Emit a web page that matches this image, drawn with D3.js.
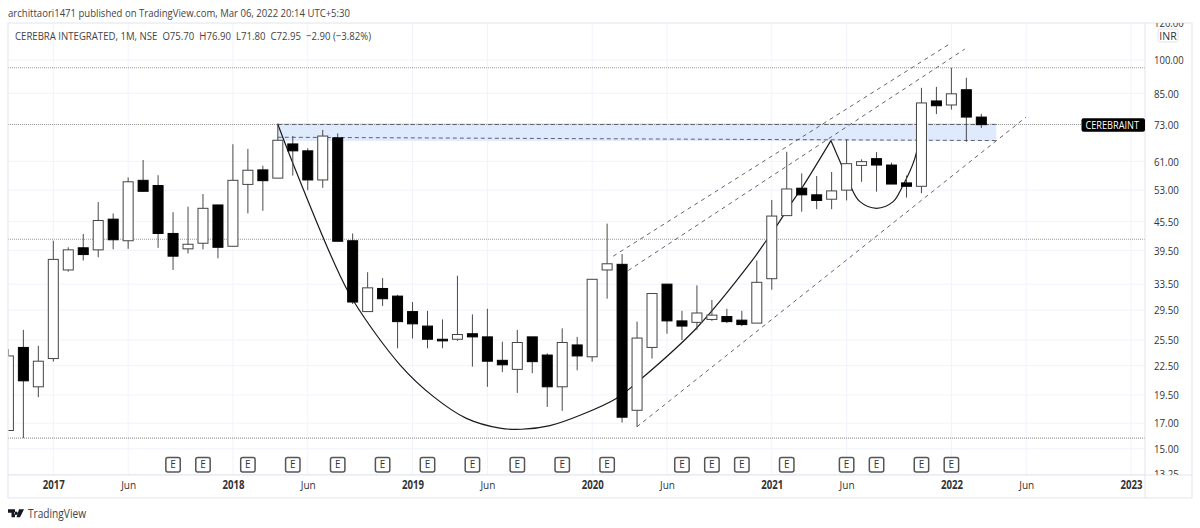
<!DOCTYPE html>
<html lang="en">
<head>
  <meta charset="utf-8">
  <title>CEREBRA INTEGRATED, 1M, NSE</title>
  <script src="https://d3js.org/d3.v7.min.js"></script>
  <style>
    html, body { margin: 0; padding: 0; background: #fff; }
    svg { display: block; }
    text { font-family: "Open Sans", sans-serif; fill: #333; }
  </style>
</head>
<body>
<svg id="chart" width="1200" height="528"></svg>
<script>
// monthly bars, first one is Oct 2016 (month 0 = Jan 2017)
var firstMonth = -3;
var opens = [16.4,24.6,20.3,23.3,35.9,40.0,39.6,46.0,41.4,55.6,54.2,42.9,39.8,40.9,49.3,40.3,54.5,58.5,56.2,66.4,64.2,55.7,68.4,41.4,29.3,32.8,31.6,29.3,27.3,25.6,25.6,26.3,25.9,23.1,22.1,25.9,23.7,20.3,24.9,23.5,35.9,36.9,18.1,24.6,33.5,28.0,27.8,28.2,28.6,28.1,27.7,34.4,46.8,53.5,51.8,50.7,53.0,59.8,61.8,59.9,54.9,54.0,81.9,80.3,86.5,75.7];
var highs = [24.4,26.8,24.8,41.4,40.1,42.8,50.0,47.3,56.4,61.4,57.0,47.6,48.9,52.0,49.3,66.3,64.8,59.7,73.4,69.0,65.0,71.1,69.9,42.9,35.5,34.5,31.8,30.7,29.4,28.2,34.9,28.9,29.7,25.3,26.8,25.9,23.9,27.0,25.9,34.3,45.0,38.8,27.9,32.0,33.5,29.4,33.3,31.0,29.7,29.4,37.6,50.5,63.9,57.5,56.8,57.9,67.9,61.6,63.8,60.6,56.9,87.3,87.7,96.3,91.7,76.9];
var lows = [16.4,15.8,19.3,22.95,35.6,37.6,38.2,39.7,39.8,52.6,40.0,35.9,38.9,39.7,38.0,40.3,47.3,47.9,56.2,56.9,53.0,53.6,41.3,30.4,29.3,30.1,24.5,25.7,24.5,24.5,25.4,22.4,20.3,21.8,19.7,21.7,18.4,18.05,22.0,22.95,31.2,17.05,16.7,23.3,26.3,25.5,26.8,28.0,27.7,27.3,27.7,32.6,46.8,47.7,48.3,48.3,50.4,55.2,52.6,54.6,51.1,52.2,76.8,78.5,67.1,71.8];
var closes = [23.6,20.9,23.0,37.8,39.6,38.7,45.7,41.6,55.2,52.7,42.9,38.4,40.7,48.5,40.1,55.6,58.4,55.5,67.6,64.2,55.7,69.0,41.3,30.7,32.9,31.2,27.9,27.6,25.6,25.4,26.2,25.9,23.0,22.6,25.2,22.95,20.3,25.2,23.6,34.3,37.0,17.5,25.75,32.0,28.0,27.3,29.1,28.8,27.9,27.5,33.8,46.7,53.3,51.8,50.4,52.8,60.3,60.9,59.9,54.6,54.0,81.1,80.0,84.8,75.7,72.95];

var priceTicks = [120,100,85,73,61,53,45.5,39.5,33.5,29.5,25.5,22.5,19.5,17,15,13.25];
var timeTicks = [0,5,12,17,24,29,36,41,48,53,60,65,72];
var timeLabels = ["2017","Jun","2018","Jun","2019","Jun","2020","Jun","2021","Jun","2022","Jun","2023"];
var yearTicks = [0,12,24,36,48,60,72];
var earnings = [8,10,13,16,19,22,25,28,31,34,37,42,44,46,49,53,55,58,60];
var dottedLevels = [96.3,73,41.7,15.8];

// drawn objects, as [month, price]
var cupCurve = [[15,73.1],[16,60.5],[18.68,37.7],[20.02,31],[23.16,22.6],[25.4,19.35],[27.6,17.4],[29.84,16.59],[31.29,16.5],[33.18,16.8],[35.4,17.78],[37.64,19.2],[39.35,21.2],[42.98,27.05],[46.72,37.7],[47.66,41.55],[48.32,44.5],[49.32,49.8],[50,53.5],[51.95,67.5]];
var peakDrop = [[51.95,67.5],[53.33,53.5]];
var handleCurve = [[53.33,53.5],[53.89,50.1],[55,48.5],[56.11,50.1],[56.67,53.5],[57.56,61.9],[58,73]];
var channelUpper = [[37.41,38.4],[59.95,108.5]];
var channelMiddle = [[38.41,35.8],[60.9,105.5]];
var channelLower = [[38.99,16.7],[64.97,75.6]];
var zoneMonths = [15,63];
var zonePrices = [73.5,67.4];
var zoneTopLine = [[15,73],[63,73]];
var zoneBottomLine = [[15,68.6],[63,67.5]];

var left = 8, right = 1145, top_ = 23, bottom = 475, outerRight = 1192, outerBottom = 498;

var x = d3.scaleLinear().domain([-3, 72]).range([8.4, 1131]);
var y = d3.scaleLog().domain([119.8, 13.2]).range([top_, bottom]);

var svg = d3.select("#chart");
var defs = svg.append("defs");
defs.append("clipPath").attr("id", "plot").append("rect")
  .attr("x", left).attr("y", top_).attr("width", right - left).attr("height", bottom - top_);
defs.append("clipPath").attr("id", "scale").append("rect")
  .attr("x", right).attr("y", top_).attr("width", outerRight - right).attr("height", bottom - top_);

var plot = svg.append("g").attr("clip-path", "url(#plot)");

// grid
plot.selectAll(".hgrid").data(priceTicks).join("line")
  .attr("x1", left).attr("x2", right)
  .attr("y1", function(d) { return y(d); }).attr("y2", function(d) { return y(d); })
  .attr("stroke", "#f0f3fa");
plot.selectAll(".vgrid").data(timeTicks).join("line")
  .attr("x1", function(d) { return x(d); }).attr("x2", function(d) { return x(d); })
  .attr("y1", top_).attr("y2", bottom)
  .attr("stroke", "#f0f3fa");

// blue zone
plot.append("rect")
  .attr("x", x(zoneMonths[0])).attr("y", y(zonePrices[0]))
  .attr("width", x(zoneMonths[1]) - x(zoneMonths[0]))
  .attr("height", y(zonePrices[1]) - y(zonePrices[0]))
  .attr("fill", "#dfeafc");

// dotted levels
plot.selectAll(".level").data(dottedLevels).join("line")
  .attr("x1", left).attr("x2", right)
  .attr("y1", function(d) { return y(d); }).attr("y2", function(d) { return y(d); })
  .attr("stroke", "#9a9a9a").attr("stroke-width", 1.2).attr("stroke-dasharray", "1 1");

var line = d3.line().x(function(d) { return x(d[0]); }).y(function(d) { return y(d[1]); });
var smooth = d3.line().x(function(d) { return x(d[0]); }).y(function(d) { return y(d[1]); }).curve(d3.curveCatmullRom);

[channelUpper, channelMiddle, channelLower].forEach(function(c) {
  plot.append("path").attr("d", line(c)).attr("fill", "none")
    .attr("stroke", "#666").attr("stroke-dasharray", "4 4");
});
[zoneTopLine, zoneBottomLine].forEach(function(c) {
  plot.append("path").attr("d", line(c)).attr("fill", "none")
    .attr("stroke", "#5a6472").attr("stroke-dasharray", "4 3");
});

plot.append("path").attr("d", smooth(cupCurve)).attr("fill", "none").attr("stroke", "#1a1a1a").attr("stroke-width", 1.2);
plot.append("path").attr("d", line(peakDrop)).attr("fill", "none").attr("stroke", "#1a1a1a").attr("stroke-width", 1.2);
plot.append("path").attr("d", smooth(handleCurve)).attr("fill", "none").attr("stroke", "#1a1a1a").attr("stroke-width", 1.2);

// candles
var bars = opens.map(function(o, i) {
  return { m: firstMonth + i, o: o, h: highs[i], l: lows[i], c: closes[i] };
});
var candle = plot.selectAll(".candle").data(bars).join("g");
candle.append("line")
  .attr("x1", function(d) { return x(d.m); }).attr("x2", function(d) { return x(d.m); })
  .attr("y1", function(d) { return y(d.h); }).attr("y2", function(d) { return y(d.l); })
  .attr("stroke", "#4a4a4a");
candle.append("rect")
  .attr("x", function(d) { return x(d.m) - 5; })
  .attr("width", 10)
  .attr("y", function(d) { return y(Math.max(d.o, d.c)); })
  .attr("height", function(d) { return Math.abs(y(d.o) - y(d.c)); })
  .attr("fill", function(d) { return d.c >= d.o ? "#fff" : "#000"; })
  .attr("stroke", function(d) { return d.c >= d.o ? "#444" : "#000"; });

// earnings
var marks = plot.selectAll(".earn").data(earnings).join("g")
  .attr("transform", function(d) { return "translate(" + x(d) + ",464.7)"; });
marks.append("rect").attr("x", -7.2).attr("y", -7.2).attr("width", 14.4).attr("height", 14.4).attr("rx", 2)
  .attr("fill", "#fff").attr("stroke", "#555").attr("stroke-width", 1.5);
marks.append("text").attr("text-anchor", "middle").attr("dy", "0.36em")
  .style("font-size", "10px").text("E");

// frame
var frame = svg.append("g").attr("stroke", "#e2e5ec").attr("fill", "none");
frame.append("rect").attr("x", left).attr("y", top_).attr("width", outerRight - left).attr("height", outerBottom - top_);
frame.append("line").attr("x1", left).attr("x2", outerRight).attr("y1", bottom).attr("y2", bottom);
frame.append("line").attr("x1", right).attr("x2", right).attr("y1", top_).attr("y2", outerBottom);

// price scale
var yAxis = d3.axisRight(y).tickValues(priceTicks).tickSize(0).tickPadding(0)
  .tickFormat(function(d) { return d3.format(".2f")(d); });
var yg = svg.append("g").attr("clip-path", "url(#scale)")
  .append("g").attr("transform", "translate(1154,0)").call(yAxis);
yg.select(".domain").remove();
yg.selectAll("text").style("font-size", "11.5px").style("font-family", '"Open Sans", sans-serif').attr("fill", "#333")
  .attr("textLength", function(d) { return d3.format(".2f")(d).length * 4.95; })
  .attr("lengthAdjust", "spacingAndGlyphs");

// time scale
var xAxis = d3.axisBottom(x).tickValues(timeTicks).tickSize(0).tickPadding(0)
  .tickFormat(function(d) { return timeLabels[timeTicks.indexOf(d)]; });
var xg = svg.append("g").attr("transform", "translate(0,481)").call(xAxis);
xg.select(".domain").remove();
xg.selectAll("text").style("font-size", "11.5px").style("font-family", '"Open Sans", sans-serif')
  .style("font-weight", function(d) { return yearTicks.indexOf(d) >= 0 ? 700 : 400; })
  .attr("textLength", function(d) { return yearTicks.indexOf(d) >= 0 ? 22 : 15; })
  .attr("lengthAdjust", "spacingAndGlyphs")
  .attr("fill", "#333");

// INR box
svg.append("rect").attr("x", 1158).attr("y", 29).attr("width", 20).attr("height", 13).attr("rx", 2)
  .attr("fill", "#fff").attr("stroke", "#e0e3eb");
svg.append("text").attr("x", 1168).attr("y", 39.5).attr("text-anchor", "middle").style("font-size", "10.5px").text("INR");

// symbol tag
svg.append("rect").attr("x", 1081.5).attr("y", y(72.95) - 6.5).attr("width", right - 1081.5).attr("height", 13.5).attr("rx", 2).attr("fill", "#000");
svg.append("text").attr("x", 1085.5).attr("y", y(72.95) + 4.3).style("font-size", "11.5px").style("fill", "#fff")
  .attr("textLength", 53.5).attr("lengthAdjust", "spacingAndGlyphs").text("CEREBRAINT");

// headings
svg.append("text").attr("x", 8).attr("y", 17).style("font-size", "11.5px").style("fill", "#444")
  .attr("textLength", 342).attr("lengthAdjust", "spacingAndGlyphs")
  .text("archittaori1471 published on TradingView.com, Mar 06, 2022 20:14 UTC+5:30");
svg.append("text").attr("x", 15).attr("y", 40).style("font-size", "11.5px").style("fill", "#444")
  .attr("textLength", 356).attr("lengthAdjust", "spacingAndGlyphs")
  .attr("xml:space", "preserve").style("white-space", "pre")
  .text("CEREBRA INTEGRATED, 1M, NSE  O75.70  H76.90  L71.80  C72.95  \u22122.90 (\u22123.82%)");

// logo
svg.append("path").attr("transform", "translate(8,509.3)").attr("fill", "#131722")
  .attr("d", "M0 0H7V8H3.5V3.5H0Z M8 2.2a1.7 1.7 0 1 0 0.01 0Z M11 0H16L12 8H8.5Z");
svg.append("text").attr("x", 28).attr("y", 518).style("font-size", "12px").style("fill", "#444")
  .attr("textLength", 58).attr("lengthAdjust", "spacingAndGlyphs").text("TradingView");
</script>
</body>
</html>
